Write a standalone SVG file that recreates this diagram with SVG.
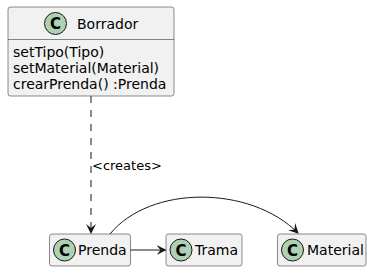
<svg xmlns="http://www.w3.org/2000/svg" width="372" height="272" viewBox="0 0 372 272">
<defs>
<style>
.box{fill:#F1F1F1;stroke:#181818;stroke-width:0.5}
.circ{fill:#ADD1B2;stroke:#181818;stroke-width:1}
.t{font-family:"DejaVu Sans",sans-serif;font-size:14px;fill:#000}
.c{font-family:"DejaVu Sans",sans-serif;font-size:15px;font-weight:bold;fill:#000;text-anchor:middle}
.lbl{font-family:"DejaVu Sans",sans-serif;font-size:13px;fill:#000}
.ln{fill:none;stroke:#181818;stroke-width:1}
</style>
<marker id="ah" viewBox="0 0 10 10" refX="9" refY="5" markerWidth="10" markerHeight="10" markerUnits="userSpaceOnUse" orient="auto">
<path d="M0,0 L10,5 L0,10 L4,5 Z" fill="#181818"/>
</marker>
</defs>
<g id="Borrador">
<rect class="box" x="8" y="7" width="166" height="89" rx="2.5"/>
<line x1="8" y1="39.5" x2="174" y2="39.5" stroke="#181818" stroke-width="0.5"/>
<circle class="circ" cx="55.5" cy="23.5" r="11"/>
<text class="c" x="55.5" y="29">C</text>
<text class="t" x="77" y="29">Borrador</text>
<text class="t" x="13" y="57">setTipo(Tipo)</text>
<text class="t" x="13" y="73">setMaterial(Material)</text>
<text class="t" x="13" y="89">crearPrenda() :Prenda</text>
</g>
<g id="Prenda">
<rect class="box" x="49.5" y="234" width="81" height="32" rx="2.5"/>
<circle class="circ" cx="64.5" cy="250" r="11"/>
<text class="c" x="64.5" y="255.5">C</text>
<text class="t" x="78" y="255">Prenda</text>
</g>
<g id="Trama">
<rect class="box" x="166" y="234" width="76" height="32" rx="2.5"/>
<circle class="circ" cx="181" cy="250" r="11"/>
<text class="c" x="181" y="255.5">C</text>
<text class="t" x="195" y="255">Trama</text>
</g>
<g id="Material">
<rect class="box" x="277.5" y="234" width="88.5" height="32" rx="2.5"/>
<circle class="circ" cx="292.5" cy="250" r="11"/>
<text class="c" x="292.5" y="255.5">C</text>
<text class="t" x="307" y="255">Material</text>
</g>
<g id="connectors">
<path class="ln" d="M91,96 L91,233" stroke-dasharray="7,7" marker-end="url(#ah)"/>
<text class="lbl" x="92" y="170">&lt;creates&gt;</text>
<path class="ln" d="M130.5,250 L165.5,250" marker-end="url(#ah)"/>
<path class="ln" d="M110,234 C150,185 250,185 298,233" marker-end="url(#ah)"/>
</g>
</svg>
